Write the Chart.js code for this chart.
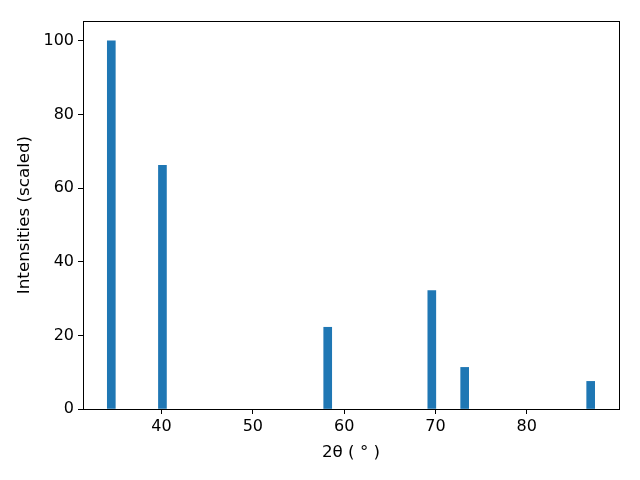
<!DOCTYPE html>
<html>
<head>
    <meta charset="utf-8">
    <title>XRD peaks</title>
    <script src="https://cdn.jsdelivr.net/npm/chart.js"></script>
    <style>
        body { margin: 0; padding: 0; background: #fff; }
        #wrap { width: 640px; height: 480px; }
    </style>
</head>
<body>
    <div id="wrap"><canvas id="xrd"></canvas></div>
    <script>
        // peak positions (2 theta, degrees) and scaled intensities
        const twoTheta = [34.5, 40.1, 58.2, 69.6, 73.2, 87.0];
        const intensity = [100, 66.2, 22.2, 32.2, 11.3, 7.5];
        const xTicks = [40, 50, 60, 70, 80];
        const yTicks = [0, 20, 40, 60, 80, 100];

        const font = { family: 'DejaVu Sans', size: 16 };
        const titleFont = { family: 'DejaVu Sans', size: 16.7 };

        // matplotlib-style box round the axes
        const frame = {
            id: 'frame',
            afterDraw(chart) {
                const a = chart.chartArea, ctx = chart.ctx;
                ctx.save();
                ctx.strokeStyle = '#000';
                ctx.lineWidth = 1;
                ctx.strokeRect(a.left + 0.5, a.top + 0.5, a.right - a.left, a.bottom - a.top);
                ctx.restore();
            }
        };

        new Chart(document.getElementById('xrd'), {
            type: 'bar',
            data: {
                datasets: [{
                    data: twoTheta.map((x, i) => ({ x: x, y: intensity[i] })),
                    backgroundColor: '#1f77b4',
                    barThickness: 8
                }]
            },
            options: {
                responsive: true,
                maintainAspectRatio: false,
                animation: false,
                layout: { padding: { top: 21, right: 21, left: 11, bottom: 13 } },
                plugins: { legend: { display: false }, tooltip: { enabled: false } },
                scales: {
                    x: {
                        type: 'linear',
                        offset: false,
                        min: 31.4,
                        max: 90.1,
                        afterBuildTicks: s => { s.ticks = xTicks.map(v => ({ value: v })); },
                        afterFit: s => { s.height = 58; },
                        grid: { offset: false, drawOnChartArea: false, tickLength: 5, color: '#000' },
                        border: { color: '#000' },
                        ticks: { color: '#000', font: font, padding: 3, maxRotation: 0 },
                        title: { display: true, text: '2θ ( ° )', color: '#000', font: titleFont, padding: { top: 2 } }
                    },
                    y: {
                        min: 0,
                        max: 105.4,
                        afterBuildTicks: s => { s.ticks = yTicks.map(v => ({ value: v })); },
                        afterFit: s => { s.width = 72; },
                        grid: { drawOnChartArea: false, tickLength: 5, color: '#000' },
                        border: { color: '#000' },
                        ticks: { color: '#000', font: font, padding: 4 },
                        title: { display: true, text: 'Intensities (scaled)', color: '#000', font: titleFont, padding: { bottom: 4 } }
                    }
                }
            },
            plugins: [frame]
        });
    </script>
</body>
</html>
